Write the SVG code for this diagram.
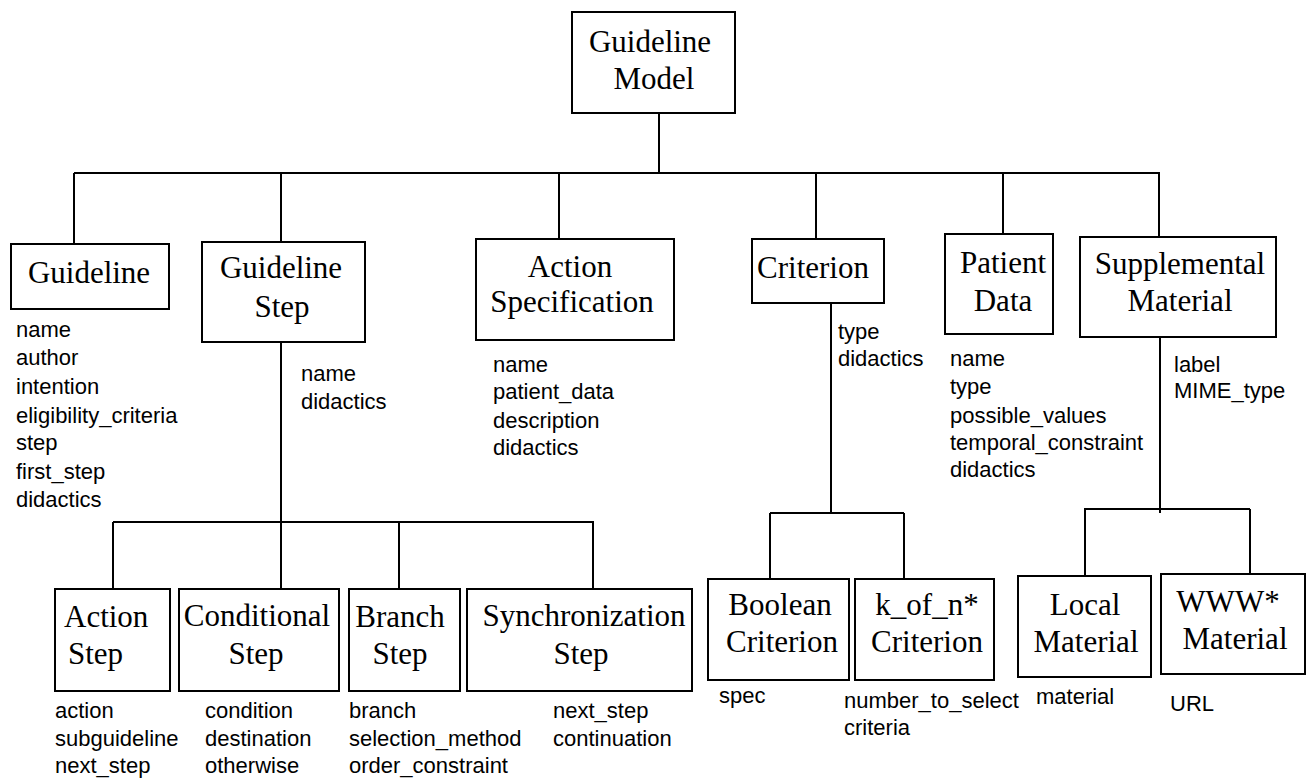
<svg xmlns="http://www.w3.org/2000/svg" width="1311" height="783" viewBox="0 0 1311 783">
<style>
rect{fill:#fff;stroke:#000;stroke-width:2}
.c path{fill:none;stroke:#000;stroke-width:2}
.t{font-family:"Liberation Serif","Times New Roman",serif;font-size:31px;fill:#000;text-anchor:middle}
.ts{font-family:"Liberation Serif","Times New Roman",serif;font-size:31px;fill:#000}
.a{font-family:"Liberation Sans",Arial,sans-serif;font-size:22px;fill:#000}
</style>
<rect x="0" y="0" width="1311" height="783" style="stroke:none"/>
<g class="c" id="connectors">
<path d="M659 113V173"/>
<path d="M74 173H1160"/>
<path d="M74 173V244"/>
<path d="M281 173V242"/>
<path d="M559 173V239"/>
<path d="M816 173V239"/>
<path d="M1003 173V234"/>
<path d="M1159 173V237"/>
<path d="M281 342V589"/>
<path d="M113 522H594"/>
<path d="M113 522V589"/>
<path d="M399 522V589"/>
<path d="M593 522V589"/>
<path d="M831 303V513"/>
<path d="M770 513H904"/>
<path d="M770 513V579"/>
<path d="M904 513V579"/>
<path d="M1160 337V513"/>
<path d="M1084 509H1250"/>
<path d="M1085 509V576"/>
<path d="M1250 509V574"/>
</g>
<g id="guideline-model">
<rect x="572" y="12" width="163" height="101"/>
<text class="t" x="650" y="52">Guideline</text>
<text class="t" x="654" y="89">Model</text>
</g>
<g id="guideline">
<rect x="11" y="244" width="158" height="65"/>
<text class="t" x="89" y="283">Guideline</text>
<text class="a" x="16" y="337">name</text>
<text class="a" x="16" y="365">author</text>
<text class="a" x="16" y="394">intention</text>
<text class="a" x="16" y="423">eligibility_criteria</text>
<text class="a" x="16" y="450">step</text>
<text class="a" x="16" y="479">first_step</text>
<text class="a" x="16" y="507">didactics</text>
</g>
<g id="guideline-step">
<rect x="202" y="242" width="163" height="100"/>
<text class="t" x="281" y="278">Guideline</text>
<text class="t" x="282" y="317">Step</text>
<text class="a" x="301" y="381">name</text>
<text class="a" x="301" y="409">didactics</text>
</g>
<g id="action-specification">
<rect x="476" y="239" width="198" height="101"/>
<text class="t" x="570" y="277">Action</text>
<text class="t" x="572" y="312">Specification</text>
<text class="a" x="493" y="372">name</text>
<text class="a" x="493" y="399">patient_data</text>
<text class="a" x="493" y="428">description</text>
<text class="a" x="493" y="455">didactics</text>
</g>
<g id="criterion">
<rect x="752" y="239" width="132" height="64"/>
<text class="t" x="813" y="278">Criterion</text>
<text class="a" x="838" y="339">type</text>
<text class="a" x="838" y="366">didactics</text>
</g>
<g id="patient-data">
<rect x="945" y="234" width="108" height="100"/>
<text class="t" x="1003" y="273">Patient</text>
<text class="t" x="1003" y="311">Data</text>
<text class="a" x="950" y="366">name</text>
<text class="a" x="950" y="394">type</text>
<text class="a" x="950" y="423">possible_values</text>
<text class="a" x="950" y="450">temporal_constraint</text>
<text class="a" x="950" y="477">didactics</text>
</g>
<g id="supplemental-material">
<rect x="1080" y="237" width="196" height="100"/>
<text class="t" x="1180" y="274">Supplemental</text>
<text class="t" x="1180" y="311">Material</text>
<text class="a" x="1174" y="372">label</text>
<text class="a" x="1174" y="398">MIME_type</text>
</g>
<g id="action-step">
<rect x="55" y="589" width="115" height="102"/>
<text class="ts" x="64" y="627">Action</text>
<text class="ts" x="68" y="664">Step</text>
<text class="a" x="55" y="718">action</text>
<text class="a" x="55" y="746">subguideline</text>
<text class="a" x="55" y="773">next_step</text>
</g>
<g id="conditional-step">
<rect x="179" y="589" width="160" height="102"/>
<text class="t" x="257" y="626">Conditional</text>
<text class="t" x="256" y="664">Step</text>
<text class="a" x="205" y="718">condition</text>
<text class="a" x="205" y="746">destination</text>
<text class="a" x="205" y="773">otherwise</text>
</g>
<g id="branch-step">
<rect x="349" y="589" width="111" height="102"/>
<text class="t" x="400" y="627">Branch</text>
<text class="t" x="400" y="664">Step</text>
<text class="a" x="349" y="718">branch</text>
<text class="a" x="349" y="746">selection_method</text>
<text class="a" x="349" y="773">order_constraint</text>
</g>
<g id="synchronization-step">
<rect x="467" y="589" width="225" height="102"/>
<text class="t" x="584" y="626">Synchronization</text>
<text class="t" x="581" y="664">Step</text>
<text class="a" x="553" y="718">next_step</text>
<text class="a" x="553" y="746">continuation</text>
</g>
<g id="boolean-criterion">
<rect x="708" y="579" width="141" height="101"/>
<text class="t" x="780" y="615">Boolean</text>
<text class="t" x="782" y="652">Criterion</text>
<text class="a" x="719" y="703">spec</text>
</g>
<g id="k-of-n-criterion">
<rect x="855" y="579" width="139" height="101"/>
<text class="t" x="927" y="615">k_of_n*</text>
<text class="t" x="927" y="652">Criterion</text>
<text class="a" x="844" y="708">number_to_select</text>
<text class="a" x="844" y="735">criteria</text>
</g>
<g id="local-material">
<rect x="1018" y="576" width="133" height="101"/>
<text class="t" x="1085" y="615">Local</text>
<text class="t" x="1086" y="652">Material</text>
<text class="a" x="1036" y="704">material</text>
</g>
<g id="www-material">
<rect x="1161" y="574" width="144" height="100"/>
<text class="t" x="1228" y="612">WWW*</text>
<text class="t" x="1235" y="649">Material</text>
<text class="a" x="1170" y="711">URL</text>
</g>
</svg>
